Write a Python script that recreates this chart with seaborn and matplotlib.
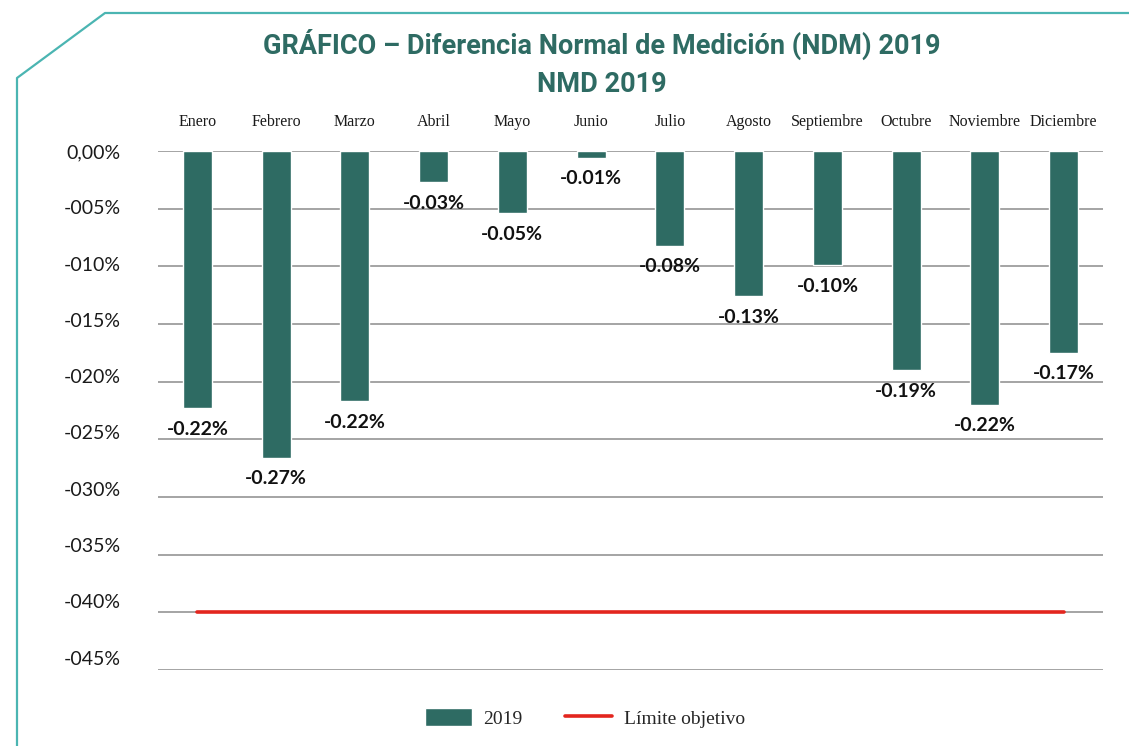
import seaborn as sns
import matplotlib.pyplot as plt
from matplotlib.patches import Patch
from matplotlib.lines import Line2D
from matplotlib.transforms import ScaledTranslation

meses = ['Enero', 'Febrero', 'Marzo', 'Abril', 'Mayo', 'Junio', 'Julio',
         'Agosto', 'Septiembre', 'Octubre', 'Noviembre', 'Diciembre']
ndm_2019 = [-0.223, -0.266, -0.217, -0.027, -0.054, -0.006, -0.082,
            -0.126, -0.099, -0.190, -0.220, -0.175]
limite_objetivo = [-0.40] * 12
y_ticks = [0, -0.05, -0.10, -0.15, -0.20, -0.25, -0.30, -0.35, -0.40, -0.45]
y_labels = ['0,00%', '-005%', '-010%', '-015%', '-020%', '-025%',
            '-030%', '-035%', '-040%', '-045%']

VERDE = '#2e6b63'
ROJO = '#e3251e'
TURQUESA = '#4bb5b2'

sns.set_style('white')
plt.rcParams['font.family'] = ['Lato', 'DejaVu Sans']

W, H = 1129, 746
fig = plt.figure(figsize=(W / 100, H / 100), dpi=100)
ax = fig.add_axes([158 / W, 1 - 670 / H, (1103 - 158) / W, (670 - 151) / H])

sns.barplot(x=meses, y=ndm_2019, color=VERDE, width=0.37, saturation=1, ax=ax)
sns.lineplot(x=list(range(len(meses))), y=limite_objetivo, color=ROJO, linewidth=2.6, ax=ax)

ax.set_ylim(-0.45, 0)
ax.set_xlim(-0.5, len(meses) - 0.5)
ax.set_yticks(y_ticks)
ax.set_yticklabels(y_labels, fontsize=14, color='#1a1a1a')
ax.yaxis.grid(True, color='#8c8c8c', linewidth=1.1)
ax.set_axisbelow(True)
for s in ax.spines.values():
    s.set_visible(False)
ax.tick_params(axis='y', length=0, pad=27)

ax.xaxis.tick_top()
ax.tick_params(axis='x', length=0, pad=15)
for lbl in ax.get_xticklabels():
    lbl.set_fontfamily('Liberation Serif')
    lbl.set_fontsize(11.5)
    lbl.set_color('#1a1a1a')
ax.set_xlabel('')
ax.set_ylabel('')

# las etiquetas del eje y suben un poco en el original
for i, lbl in enumerate(ax.get_yticklabels()):
    lbl.set_transform(lbl.get_transform() + ScaledTranslation(0, 1.0 * i / 72, fig.dpi_scale_trans))

ax.bar_label(ax.containers[0], labels=[f'{v:.2f}%' for v in ndm_2019],
             padding=9, fontsize=14, fontweight='bold', color='#111111')

fig.text(602 / W, 1 - 44 / H, 'GRÁFICO – Diferencia Normal de Medición (NDM) 2019',
         ha='center', va='center', fontsize=19.5, fontweight='bold', color=VERDE,
         family=['Roboto', 'DejaVu Sans'])
fig.text(602 / W, 1 - 84 / H, 'NMD 2019', ha='center', va='center', fontsize=19.5,
         fontweight='bold', color=VERDE, family=['Roboto', 'DejaVu Sans'])

handles = [Patch(facecolor=VERDE, label='2019'),
           Line2D([0], [0], color=ROJO, linewidth=2.6, label='Límite objetivo')]
fig.legend(handles=handles, loc='center', bbox_to_anchor=(585 / W, 1 - 718 / H), ncol=2,
           frameon=False, handlelength=2.4, handleheight=1.0, columnspacing=2.2,
           handletextpad=0.6, prop={'family': 'Liberation Serif', 'size': 14})

# marco decorativo
fig.add_artist(Line2D([17 / W, 17 / W, 105 / W, 1.0], [0, 1 - 78 / H, 1 - 13 / H, 1 - 13 / H],
                      transform=fig.transFigure, color=TURQUESA, linewidth=1.6))

plt.savefig('out.png', dpi=100)
